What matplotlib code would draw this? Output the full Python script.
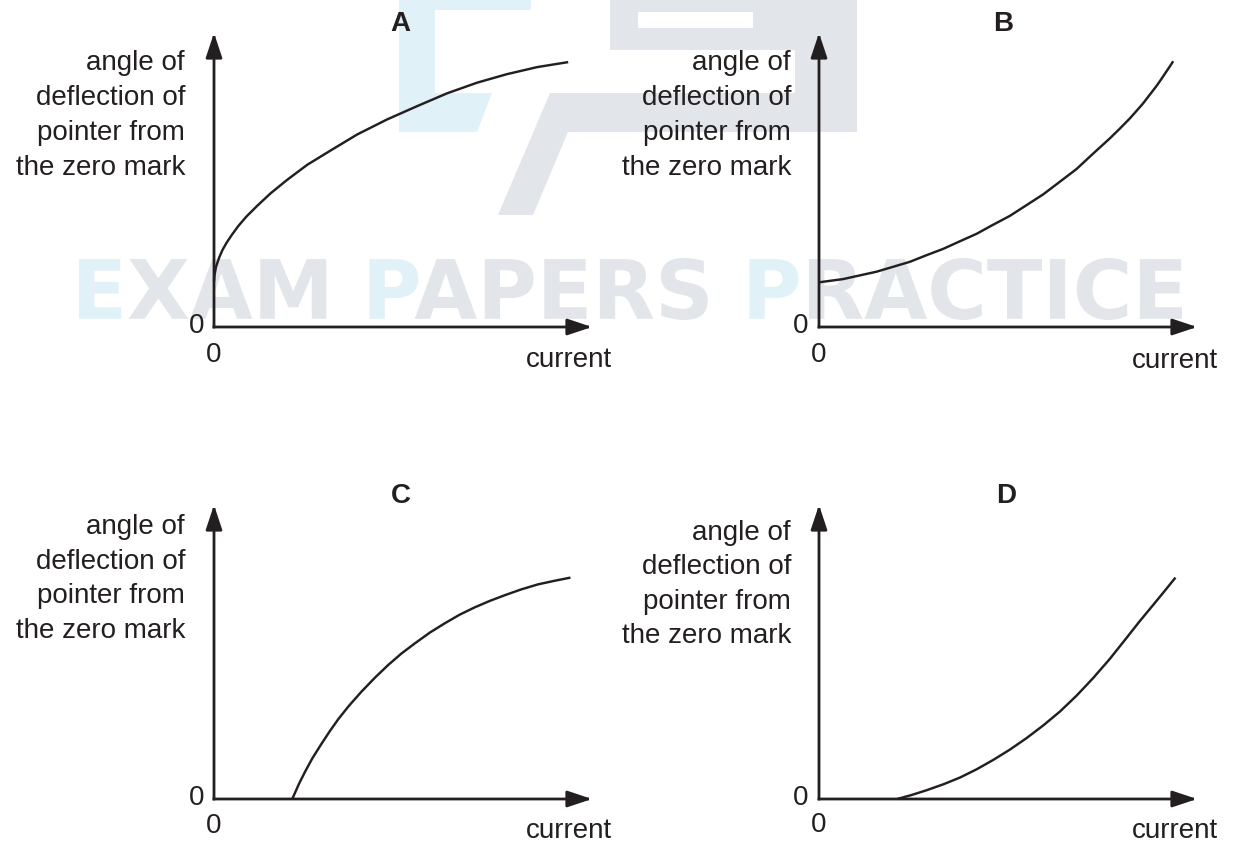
import matplotlib
matplotlib.use("Agg")
import matplotlib.pyplot as plt
import matplotlib.transforms as mtransforms
from matplotlib.path import Path
from matplotlib.patches import PathPatch, Polygon
from matplotlib.textpath import TextPath
from matplotlib.font_manager import FontProperties

W, H = 1233, 846

# curves, as fractions of the drawn axis length (current, angle)
a_current = [0, 0.001, 0.003, 0.005, 0.009, 0.014, 0.022, 0.033, 0.047, 0.064,
             0.086, 0.115, 0.150, 0.194, 0.247, 0.308, 0.379, 0.458, 0.537, 0.617,
             0.696, 0.775, 0.855, 0.937]
a_angle = [0.154, 0.174, 0.188, 0.203, 0.219, 0.237, 0.261, 0.286, 0.313, 0.343,
           0.376, 0.413, 0.455, 0.501, 0.552, 0.600, 0.655, 0.706, 0.751, 0.795,
           0.831, 0.860, 0.884, 0.901]

b_current = [0, 0.035, 0.064, 0.106, 0.152, 0.194, 0.241, 0.282, 0.329, 0.370,
             0.417, 0.458, 0.505, 0.546, 0.593, 0.634, 0.681, 0.722, 0.769, 0.796,
             0.822, 0.840, 0.857, 0.875, 0.893, 0.906, 0.919, 0.928, 0.937]
b_angle = [0.152, 0.158, 0.163, 0.175, 0.188, 0.204, 0.222, 0.243, 0.266, 0.290,
           0.317, 0.346, 0.378, 0.412, 0.451, 0.491, 0.537, 0.586, 0.641, 0.675,
           0.709, 0.735, 0.760, 0.790, 0.820, 0.844, 0.869, 0.886, 0.904]

c_current = [0.207, 0.216, 0.225, 0.241, 0.260, 0.285, 0.306, 0.329, 0.357, 0.390,
             0.426, 0.461, 0.496, 0.531, 0.571, 0.611, 0.650, 0.690, 0.730, 0.769,
             0.813, 0.857, 0.900, 0.943]
c_angle = [0, 0.026, 0.052, 0.093, 0.138, 0.189, 0.230, 0.272, 0.317, 0.365,
           0.413, 0.456, 0.495, 0.529, 0.566, 0.598, 0.627, 0.652, 0.674, 0.693,
           0.713, 0.730, 0.742, 0.753]

d_current = [0.207, 0.246, 0.285, 0.329, 0.373, 0.417, 0.461, 0.505, 0.549, 0.593,
             0.637, 0.681, 0.725, 0.769, 0.813, 0.848, 0.884, 0.914, 0.943]
d_angle = [0, 0.014, 0.030, 0.050, 0.073, 0.101, 0.133, 0.168, 0.207, 0.250,
           0.297, 0.351, 0.411, 0.476, 0.547, 0.604, 0.660, 0.707, 0.753]

panel_letters = ["A", "B", "C", "D"]
label_lines = ["angle of", "deflection of", "pointer from", "the zero mark"]
x_label = "current"

ink = "#231f20"
wm_grey = "#e2e5e9"
wm_blue = "#e1f1f8"
font = "Liberation Sans"
fs = 20

fig = plt.figure(figsize=(W / 100, H / 100), dpi=100)
fig.patch.set_facecolor("white")
# pixel coordinates (origin top-left) -> figure
px = mtransforms.Affine2D().scale(1 / W, -1 / H).translate(0, 1) + fig.transFigure

# ---- watermark logo ----
logo_blue = [[(399, 0), (531, 0), (531, 10), (435, 10), (435, 93), (492, 93),
              (477, 132), (399, 132)]]
logo_grey = [[(610, 0), (857, 0), (857, 50), (610, 50)],
             [(795, 0), (857, 0), (857, 132), (795, 132)],
             [(550, 93), (857, 93), (857, 132), (568, 132), (533, 215), (498, 215)]]
for verts in logo_blue:
    fig.add_artist(Polygon(verts, closed=True, transform=px, facecolor=wm_blue,
                           edgecolor="none", zorder=-5))
for verts in logo_grey:
    fig.add_artist(Polygon(verts, closed=True, transform=px, facecolor=wm_grey,
                           edgecolor="none", zorder=-5))
fig.add_artist(Polygon([(638, 12), (753, 12), (753, 28), (638, 28)], closed=True,
                       transform=px, facecolor="white", edgecolor="none", zorder=-4))

# ---- watermark text ----
wm_text = "EXAM PAPERS PRACTICE"
wm_prop = FontProperties(family="DejaVu Sans", weight="bold")
wm_path = TextPath((0, 0), wm_text, size=100, prop=wm_prop)
ext = wm_path.get_extents()
fit = (mtransforms.Affine2D()
       .translate(-ext.x0, -ext.y0)
       .scale((1182 - 79) / ext.width, -(320 - 258) / ext.height)
       .translate(79, 320))

blue_ranges = []
for i in [0, 5, 12]:
    left = TextPath((0, 0), wm_text[:i], size=100, prop=wm_prop).get_extents().x1 if i else -1e9
    right = TextPath((0, 0), wm_text[:i + 1], size=100, prop=wm_prop).get_extents().x1
    blue_ranges.append((left, right))

codes = wm_path.codes
verts = wm_path.vertices
starts = [k for k, c in enumerate(codes) if c == Path.MOVETO] + [len(codes)]
blue_parts, grey_parts = [], []
for s, e in zip(starts[:-1], starts[1:]):
    sub = Path(verts[s:e], codes[s:e])
    xm = verts[s:e, 0].mean()
    if any(lo < xm < hi for lo, hi in blue_ranges):
        blue_parts.append(sub)
    else:
        grey_parts.append(sub)
for parts, col in [(grey_parts, wm_grey), (blue_parts, wm_blue)]:
    fig.add_artist(PathPatch(Path.make_compound_path(*parts), transform=fit + px,
                             facecolor=col, edgecolor="none", zorder=-5))

# ---- panels ----
# origin x, origin y, x-arrow tip, y-arrow tip (pixels)
boxes = [(214, 327, 592, 33), (819, 327, 1197, 33),
         (214, 799, 592, 505), (819, 799, 1197, 505)]
curves = [(a_current, a_angle), (b_current, b_angle),
          (c_current, c_angle), (d_current, d_angle)]
label_right = [185, 791, 185, 791]
label_base = [[70.5, 105.3, 140.2, 175], [70.5, 105.3, 140.2, 175],
              [534, 568.7, 603.3, 638], [540, 574.5, 609, 643.3]]
title_pos = [(400, 31), (1003, 31), (401, 503), (1006, 503)]
current_pos = [(612, 367), (1218, 368), (612, 838), (1218, 838)]
yzero_pos = [(204, 333), (808, 333), (204, 805), (808, 805)]
xzero_pos = [(214, 362), (819, 362), (214, 833), (819, 832)]


def ftext(x, y, s, **kw):
    fig.text(x / W, 1 - y / H, s, family=font, color=ink, va="baseline", **kw)


for k in range(4):
    x0, y0, x1, y1 = boxes[k]
    ax = fig.add_axes([x0 / W, 1 - y0 / H, (x1 - x0) / W, (y0 - y1) / H])
    ax.set_xlim(0, 1)
    ax.set_ylim(0, 1)
    ax.axis("off")
    xs, ys = curves[k]
    ax.plot(xs, ys, color=ink, lw=1.75, clip_on=False,
            solid_joinstyle="round", solid_capstyle="butt")
    for tip in [(1, 0), (0, 1)]:
        ax.annotate("", xy=tip, xytext=(0, 0), xycoords="axes fraction",
                    annotation_clip=False,
                    arrowprops=dict(arrowstyle="-|>,head_length=1.5,head_width=0.5",
                                    mutation_scale=10, lw=2, color=ink,
                                    shrinkA=0, shrinkB=0, capstyle="projecting"))

    ftext(*title_pos[k], panel_letters[k], ha="center", fontsize=fs, fontweight="bold")
    for line, yb in zip(label_lines, label_base[k]):
        ftext(label_right[k], yb, line, ha="right", fontsize=fs)
    ftext(*current_pos[k], x_label, ha="right", fontsize=fs)
    ftext(*yzero_pos[k], "0", ha="right", fontsize=fs)
    ftext(*xzero_pos[k], "0", ha="center", fontsize=fs)

fig.savefig("out.png", dpi=100, facecolor="white")
